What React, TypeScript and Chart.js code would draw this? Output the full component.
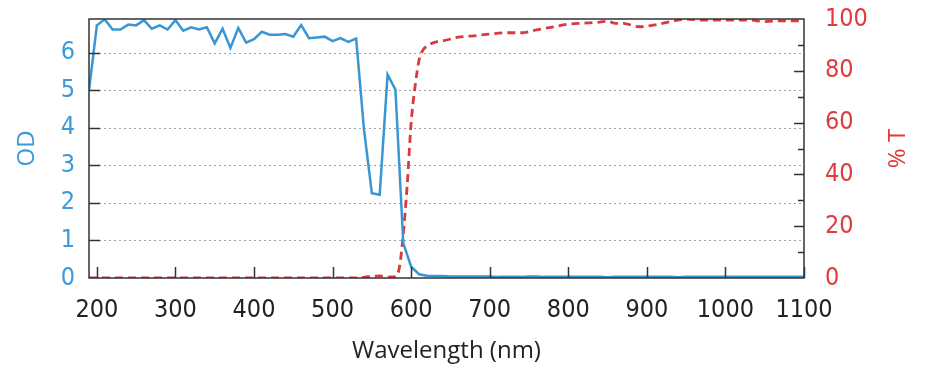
import React, { useEffect, useRef } from "react";
import { Chart, registerables } from "chart.js";

Chart.register(...registerables);

// Optical density (left axis), sampled every 10 nm
const odWavelengths = [
  190, 200, 210, 220, 230, 240, 250, 260, 270, 280, 290, 300, 310, 320, 330, 340, 350, 360, 370, 380,
  390, 400, 410, 420, 430, 440, 450, 460, 470, 480, 490, 500, 510, 520, 530, 540, 550, 560, 570, 580,
  590, 600, 610, 620, 630, 640, 650, 660, 670, 680, 690, 700, 710, 720, 730, 740, 750, 760, 770, 780,
  790, 800, 810, 820, 830, 840, 850, 860, 870, 880, 890, 900, 910, 920, 930, 940, 950, 960, 970, 980,
  990, 1000, 1010, 1020, 1030, 1040, 1050, 1060, 1070, 1080, 1090, 1100,
];
const odValues = [
  5.0, 6.73, 6.89, 6.62, 6.62, 6.75, 6.73, 6.87, 6.64, 6.73, 6.62, 6.87, 6.59, 6.68, 6.62, 6.68, 6.25, 6.64, 6.13, 6.66,
  6.27, 6.36, 6.56, 6.48, 6.48, 6.5, 6.43, 6.74, 6.39, 6.41, 6.43, 6.31, 6.39, 6.29, 6.38, 3.95, 2.26, 2.22, 5.42, 5.02,
  0.93, 0.3, 0.1, 0.06, 0.05, 0.05, 0.04, 0.04, 0.04, 0.04, 0.04, 0.04, 0.03, 0.03, 0.03, 0.03, 0.04, 0.04, 0.03, 0.03,
  0.03, 0.03, 0.03, 0.03, 0.03, 0.03, 0.02, 0.03, 0.03, 0.03, 0.03, 0.03, 0.03, 0.03, 0.03, 0.02, 0.03, 0.03, 0.03, 0.03,
  0.03, 0.03, 0.03, 0.03, 0.03, 0.03, 0.03, 0.03, 0.03, 0.03, 0.03, 0.03,
];

// Transmission % (right axis)
const tWavelengths = [
  190, 250, 300, 350, 400, 450, 500, 530, 545, 560, 570, 580, 585, 590, 595, 600, 605, 610, 615, 620,
  630, 640, 660, 680, 700, 720, 740, 760, 780, 800, 820, 840, 850, 860, 870, 890, 910, 930, 950, 970,
  990, 1010, 1030, 1050, 1070, 1090, 1100,
];
const tValues = [
  0, 0, 0, 0, 0, 0, 0, 0, 0.5, 0.8, 0.3, 0.5, 4, 17, 36, 60, 74, 84, 88, 89.5,
  91, 91.5, 93, 93.5, 94.2, 94.7, 94.7, 95.8, 96.9, 98, 98.4, 98.8, 99.2, 98.3, 98.3, 97, 97.7, 99, 100, 99.6,
  99.6, 99.6, 99.6, 99, 99.3, 99.3, 99.3,
];

const xTicks = [200, 300, 400, 500, 600, 700, 800, 900, 1000, 1100];
const odTicks = [0, 1, 2, 3, 4, 5, 6];
const tTicks = [0, 20, 40, 60, 80, 100];
const tMinorTicks = [10, 30, 50, 70, 90];

const xTitle = "Wavelength (nm)";
const odTitle = "OD";
const tTitle = "% T";

const BLUE = "#3a96d3";
const BLUE_TEXT = "#3b9ad9";
const RED = "#d83a3f";
const RED_TEXT = "#e03a3f";
const DARK = "#222222";
const TICK_FONT = "'Liberation Sans Narrow', 'DejaVu Sans Condensed', 'Liberation Sans', sans-serif";
const TITLE_FONT = "'Open Sans', 'DejaVu Sans', sans-serif";

const framePlugin = {
  id: "framePlugin",
  beforeDatasetsDraw(chart: any) {
    const { ctx, chartArea: a, scales } = chart;
    ctx.save();
    ctx.strokeStyle = "#a0a0a0";
    ctx.lineWidth = 1;
    ctx.setLineDash([2, 3]);
    for (const v of odTicks) {
      if (v === 0) continue;
      const y = Math.round(scales.y.getPixelForValue(v)) + 0.5;
      ctx.beginPath();
      ctx.moveTo(a.left, y);
      ctx.lineTo(a.right, y);
      ctx.stroke();
    }
    ctx.restore();
  },
  afterDatasetsDraw(chart: any) {
    const { ctx, chartArea: a, scales } = chart;
    ctx.save();
    ctx.strokeStyle = "#333333";
    ctx.lineWidth = 1.5;
    ctx.setLineDash([]);
    ctx.strokeRect(a.left, a.top, a.right - a.left, a.bottom - a.top);
    ctx.lineWidth = 1.5;
    ctx.beginPath();
    for (const v of xTicks) {
      const x = Math.round(scales.x.getPixelForValue(v)) + 0.5;
      ctx.moveTo(x, a.bottom);
      ctx.lineTo(x, a.bottom - 11);
    }
    for (const v of odTicks) {
      if (v === 0) continue;
      const y = Math.round(scales.y.getPixelForValue(v)) + 0.5;
      ctx.moveTo(a.left, y);
      ctx.lineTo(a.left + 11, y);
    }
    for (const v of tTicks) {
      if (v === 0 || v === 100) continue;
      const y = Math.round(scales.y1.getPixelForValue(v)) + 0.5;
      ctx.moveTo(a.right, y);
      ctx.lineTo(a.right - 10, y);
    }
    for (const v of tMinorTicks) {
      const y = Math.round(scales.y1.getPixelForValue(v)) + 0.5;
      ctx.moveTo(a.right, y);
      ctx.lineTo(a.right - 6, y);
    }
    ctx.stroke();
    ctx.restore();
  },
  afterDraw(chart: any) {
    const { ctx, chartArea: a } = chart;
    const midY = (a.top + a.bottom) / 2;
    ctx.save();
    ctx.font = `24px ${TITLE_FONT}`;
    ctx.textAlign = "center";
    ctx.textBaseline = "middle";
    ctx.fillStyle = DARK;
    ctx.fillText(xTitle, (a.left + a.right) / 2, 351);

    ctx.save();
    ctx.translate(27, midY);
    ctx.rotate(-Math.PI / 2);
    ctx.fillStyle = BLUE_TEXT;
    ctx.fillText(odTitle, 0, 0);
    ctx.restore();

    ctx.save();
    ctx.translate(898, midY);
    ctx.rotate(-Math.PI / 2);
    ctx.fillStyle = RED_TEXT;
    ctx.fillText(tTitle, 0, 0);
    ctx.restore();
    ctx.restore();
  },
};

const zeroPadding = (s: any) => {
  s.paddingTop = 0;
  s.paddingBottom = 0;
  s.paddingLeft = 0;
  s.paddingRight = 0;
};

export default function App() {
  const ref = useRef<HTMLCanvasElement>(null);

  useEffect(() => {
    document.body.style.margin = "0";
    const canvas = ref.current;
    if (!canvas) return;
    const chart = new Chart(canvas, {
      type: "line",
      data: {
        datasets: [
          {
            label: odTitle,
            data: odWavelengths.map((w, i) => ({ x: w, y: odValues[i] })),
            yAxisID: "y",
            borderColor: BLUE,
            borderWidth: 2.5,
            pointRadius: 0,
            tension: 0,
            fill: false,
          },
          {
            label: tTitle,
            data: tWavelengths.map((w, i) => ({ x: w, y: tValues[i] })),
            yAxisID: "y1",
            borderColor: RED,
            borderWidth: 2.8,
            borderDash: [8, 5],
            pointRadius: 0,
            cubicInterpolationMode: "monotone",
            fill: false,
          },
        ],
      },
      options: {
        responsive: false,
        animation: false,
        devicePixelRatio: 1,
        layout: { padding: { top: 19, left: 0, right: 0, bottom: 0 } },
        plugins: {
          legend: { display: false },
          tooltip: { enabled: false },
          title: { display: false },
        },
        scales: {
          x: {
            type: "linear",
            position: "bottom",
            min: 190,
            max: 1100,
            grid: { display: false, drawTicks: false },
            border: { display: false },
            afterBuildTicks: (s: any) => {
              s.ticks = xTicks.map((v) => ({ value: v }));
            },
            afterFit: (s: any) => {
              s.height = 106;
              zeroPadding(s);
            },
            ticks: {
              autoSkip: false,
              maxRotation: 0,
              padding: 17,
              color: DARK,
              font: { family: TICK_FONT, size: 25 },
              callback: (v: any) => String(v),
            },
          },
          y: {
            type: "linear",
            position: "left",
            min: 0,
            max: 6.9,
            grid: { display: false, drawTicks: false },
            border: { display: false },
            afterBuildTicks: (s: any) => {
              s.ticks = odTicks.map((v) => ({ value: v }));
            },
            afterFit: (s: any) => {
              s.width = 89;
              zeroPadding(s);
            },
            ticks: {
              padding: 14,
              color: BLUE_TEXT,
              font: { family: TICK_FONT, size: 25 },
              callback: (v: any) => String(v),
            },
          },
          y1: {
            type: "linear",
            position: "right",
            min: 0,
            max: 100,
            grid: { display: false, drawTicks: false },
            border: { display: false },
            afterBuildTicks: (s: any) => {
              s.ticks = tTicks.map((v) => ({ value: v }));
            },
            afterFit: (s: any) => {
              s.width = 122;
              zeroPadding(s);
            },
            ticks: {
              padding: 21,
              color: RED_TEXT,
              font: { family: TICK_FONT, size: 25 },
              callback: (v: any) => String(v),
            },
          },
        },
      },
      plugins: [framePlugin],
    } as any);
    return () => chart.destroy();
  }, []);

  return (
    <div style={{ width: 926, height: 384 }}>
      <canvas ref={ref} width={926} height={384} style={{ display: "block" }} />
    </div>
  );
}
